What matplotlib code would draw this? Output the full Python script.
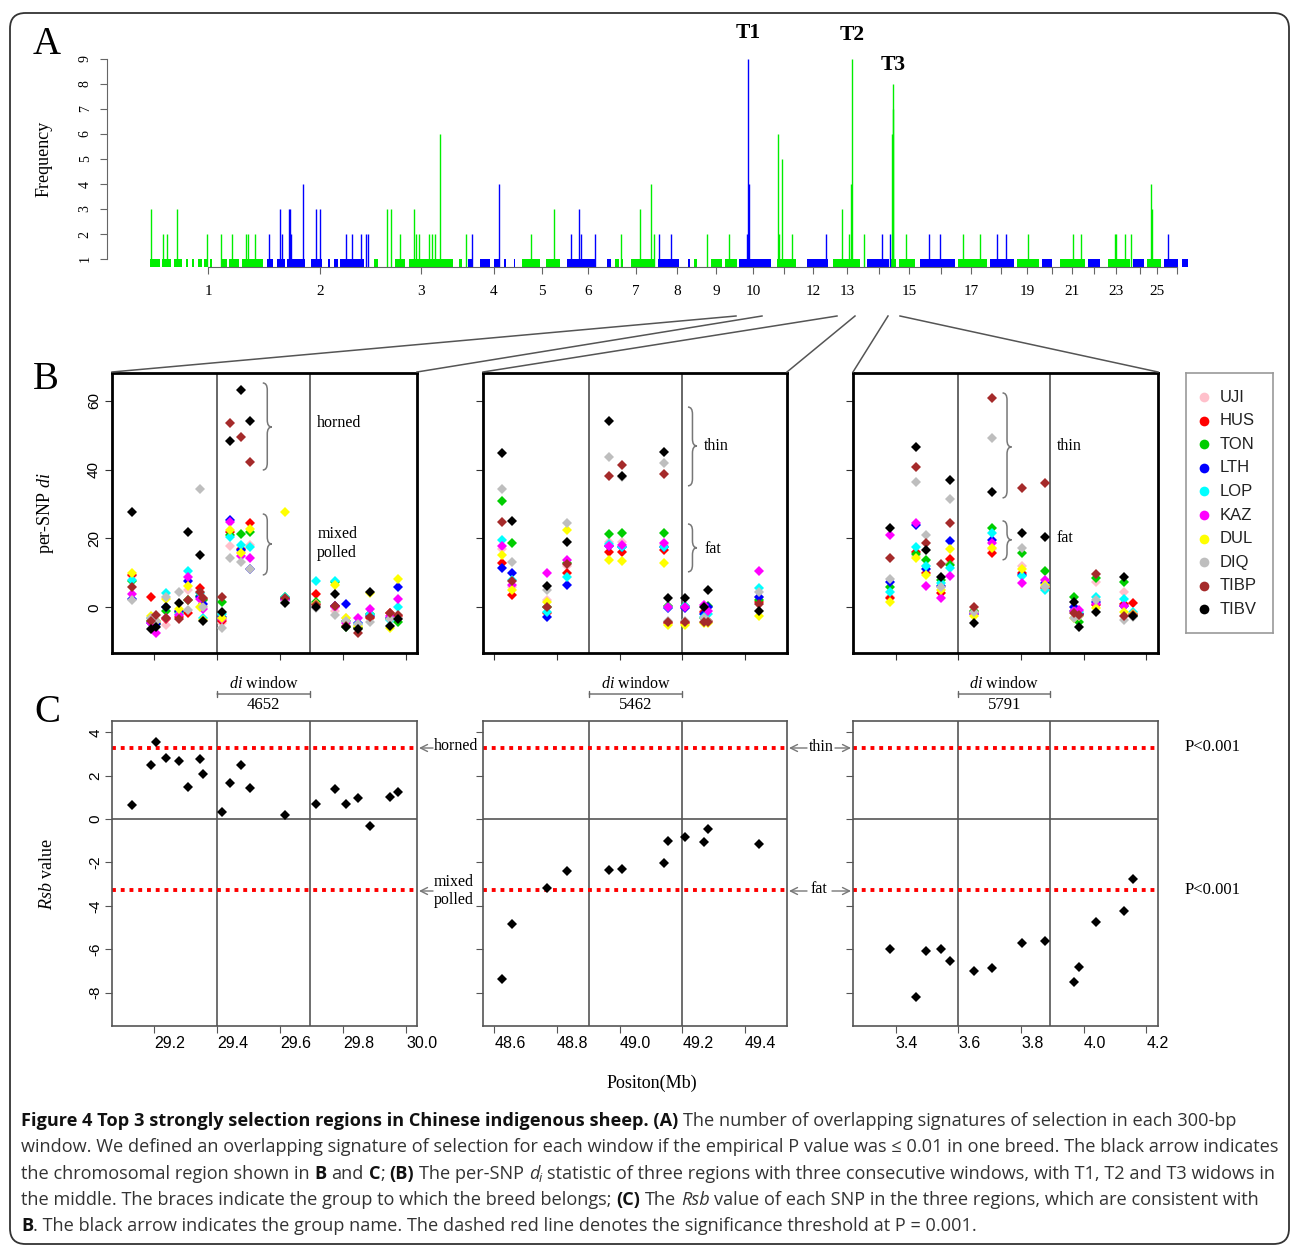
import matplotlib
matplotlib.use('Agg')
import numpy as np
import matplotlib.pyplot as plt
from matplotlib.path import Path
from matplotlib.patches import PathPatch, FancyBboxPatch, FancyArrowPatch
from matplotlib.lines import Line2D
from matplotlib.transforms import blended_transform_factory

plt.rcParams['font.family'] = ['Liberation Serif', 'DejaVu Serif']
plt.rcParams['mathtext.fontset'] = 'custom'
plt.rcParams['mathtext.rm'] = 'Liberation Serif'
plt.rcParams['mathtext.it'] = 'Liberation Serif:italic'

# ---------------- data: panel A (genome-wide overlap counts) ----------------
# cumulative genome position (plot units), chromosome borders
chrom_edges = [150, 266, 374, 468, 520, 565, 614, 656, 693, 738, 776, 803, 832, 866,
               891, 918, 957, 989, 1016, 1041, 1058, 1087, 1106, 1132, 1146, 1163, 1190]
chrom_ticks = [208, 320, 421, 494, 542, 588, 636, 677, 716, 753, 784, 813, 847, 879,
               909, 941, 971, 1001, 1027, 1052, 1072, 1094, 1116, 1140, 1157, 1177]
chrom_labels = ['1', '2', '3', '4', '5', '6', '7', '8', '9', '10', '', '12', '13', '',
                '15', '', '17', '', '19', '', '21', '', '23', '', '25', '']

# runs of windows with frequency 1 (start, end)
band_start = [150, 162, 174, 186, 192, 198, 204, 210, 221, 229, 242,
              267, 277, 287, 311, 328, 334, 340,
              374, 395, 409, 459,
              468, 480, 494, 504, 514,
              522, 546, 567, 607, 615, 621, 631,
              658, 688, 694, 711, 725, 739, 777, 807, 833, 867, 891, 899,
              920, 958, 990, 1017, 1042, 1060, 1088, 1108, 1133, 1147, 1164, 1182]
band_end = [160, 171, 182, 188, 194, 202, 207, 212, 227, 239, 263,
            273, 285, 305, 322, 330, 338, 364,
            378, 405, 453, 462,
            472, 490, 500, 506, 515,
            540, 560, 595, 611, 619, 623, 654,
            679, 690, 697, 722, 737, 771, 796, 828, 860, 889, 896, 915,
            955, 987, 1014, 1039, 1052, 1085, 1100, 1130, 1144, 1161, 1178, 1188]

# windows with frequency >= 2
peak_pos = [151, 163, 167, 177, 207, 221, 232, 246, 248, 255,
            269, 280, 282, 289, 290, 291, 303, 316, 320, 346, 352, 361, 366, 368,
            387, 391, 400, 414, 416, 419, 429, 432, 435, 440, 466,
            472, 499, 531, 554, 571, 579, 581, 595,
            621, 640, 651, 654, 659, 671, 707, 729,
            747, 748, 749, 778, 779, 782, 792, 826,
            842, 849, 851, 852, 864, 882, 890,
            892.3, 892.6, 893, 906, 929, 940, 963, 980, 997, 1006, 1028,
            1073, 1081, 1115, 1116, 1125, 1131, 1151, 1151.5, 1168]
peak_freq = [3, 2, 2, 3, 2, 2, 2, 2, 2, 2,
             2, 3, 2, 3, 3, 2, 4, 3, 3, 2, 2, 2, 2, 2,
             3, 3, 2, 3, 2, 2, 2, 2, 2, 6, 2,
             2, 4, 2, 3, 2, 3, 2, 2,
             2, 3, 4, 2, 2, 2, 2, 2,
             2, 9, 4, 6, 2, 5, 2, 2,
             3, 2, 4, 9, 2, 2, 2,
             6, 7, 8, 2, 2, 2, 2, 2, 2, 2, 2,
             2, 2, 2, 2, 2, 2, 4, 3, 2]

peak_names = ['T1', 'T2', 'T3']
peak_name_pos = [748, 852, 893]
peak_name_freq = [9, 9, 8]

# ---------------- data: panels B and C ----------------
breeds = ['UJI', 'HUS', 'TON', 'LTH', 'LOP', 'KAZ', 'DUL', 'DIQ', 'TIBP', 'TIBV']
breed_colors = ['#ffc0cb', '#ff0000', '#00cd00', '#0000ff', '#00ffff', '#ff00ff',
                '#ffff00', '#bebebe', '#a52a2a', '#000000']

pos_t1 = [29.129, 29.190, 29.206, 29.238, 29.280, 29.308, 29.346, 29.354, 29.417, 29.440,
          29.477, 29.505, 29.615, 29.714, 29.773, 29.808, 29.848, 29.886, 29.950, 29.976]
di_t1 = [
    [9.0, -3.5, -5.5, -5.1, -1.5, 5.0, 4.0, 0.5, -4.5, 17.9, 16.0, 18.0, 2.0, 1.0, -1.0, -3.0, -5.5, -2.0, -3.0, -3.0],
    [9.5, 2.9, -4.5, -3.5, -2.7, -1.7, 5.5, 2.5, -3.9, 22.0, 16.8, 24.4, 2.5, 3.8, 0.5, -4.0, -6.0, -3.0, -1.7, -2.5],
    [7.7, -4.0, -5.0, -1.0, -1.5, 2.1, 3.4, 2.1, 1.4, 21.0, 21.3, 22.0, 3.1, 1.6, 7.2, -5.8, -6.1, -2.0, -3.5, -4.2],
    [2.3, -4.5, -5.0, 0.2, -1.0, 7.7, 3.0, 1.0, -2.7, 25.4, 16.5, 11.0, 2.5, 1.0, 0.5, 0.9, -4.6, -2.5, -3.0, 6.0],
    [8.0, -3.0, -4.0, 4.1, -2.0, 10.4, 4.0, -3.0, -2.0, 20.5, 18.1, 17.6, 3.0, 7.5, 7.5, -4.0, -4.8, -2.0, -3.7, 0.2],
    [3.8, -4.6, -7.4, -3.0, -2.2, 8.9, 2.5, -0.6, -3.5, 24.7, 15.0, 14.2, 2.0, 1.0, 0.0, -4.5, -3.2, -0.6, -2.5, 2.3],
    [9.9, -2.5, -4.0, 2.5, -0.5, 6.3, 0.0, -3.7, -3.0, 22.5, 15.7, 22.7, 27.6, 1.0, 6.5, -3.0, -5.5, 4.1, -6.1, 8.3],
    [2.0, -3.0, -4.0, 2.9, 4.4, -0.8, 34.3, 0.0, -6.1, 14.2, 13.1, 11.0, 1.5, -0.3, -2.2, -4.0, -5.0, -4.2, -3.5, -3.0],
    [6.0, -4.0, -2.2, -3.2, -3.5, 2.1, 4.5, 2.6, 2.9, 53.6, 49.4, 42.1, 2.8, 0.7, 0.4, -5.5, -7.4, -2.7, -1.7, -2.2],
    [27.6, -6.4, -5.6, 0.2, 1.2, 22.0, 15.2, -4.0, -1.3, 48.4, 63.1, 54.1, 1.2, 0.0, 3.8, -5.8, -6.4, 4.4, -5.4, -3.5],
]
rsb_t1 = [0.65, 2.49, 3.56, 2.80, 2.69, 1.50, 2.75, 2.09, 0.31, 1.64,
          2.49, 1.43, 0.20, 0.69, 1.38, 0.71, 0.98, -0.32, 1.03, 1.23]

pos_t2 = [48.625, 48.656, 48.768, 48.832, 48.967, 49.007, 49.140, 49.154, 49.209, 49.270, 49.281, 49.446]
di_t2 = [
    [17.0, 6.0, 2.0, 12.0, 19.0, 19.0, 18.0, 0.5, 0.0, -1.0, 0.0, 3.0],
    [13.0, 3.6, -1.8, 10.0, 16.0, 16.2, 16.5, -4.5, -4.5, -1.3, -4.0, 1.5],
    [30.8, 18.8, 0.2, 12.8, 21.3, 21.5, 21.5, 0.4, 0.4, -3.0, 0.5, 2.0],
    [11.3, 10.1, -2.9, 6.5, 17.9, 17.5, 17.5, -0.3, -0.3, -2.0, 0.0, 2.9],
    [19.6, 8.0, -1.3, 8.7, 18.5, 17.6, 17.4, 0.0, 0.4, -2.9, -2.0, 5.5],
    [17.9, 6.5, 9.9, 13.7, 17.9, 18.1, 18.6, 0.0, 0.0, 0.7, -1.0, 10.4],
    [15.2, 5.0, 1.4, 22.5, 13.6, 13.5, 13.0, -5.1, -5.1, -4.6, -4.5, -2.5],
    [34.4, 13.1, 5.0, 24.4, 43.8, 38.0, 42.0, -4.0, -4.0, -3.0, -4.0, 4.4],
    [24.7, 7.7, 0.2, 12.6, 38.2, 41.3, 38.7, -4.2, -4.2, -4.2, -4.2, 1.0],
    [44.9, 25.2, 6.3, 19.1, 54.2, 38.1, 45.2, 2.6, 2.6, 0.0, 5.0, -1.0],
]
rsb_t2 = [-7.39, -4.84, -3.16, -2.38, -2.35, -2.29, -2.01, -1.00, -0.85, -1.07, -0.46, -1.15]

pos_t3 = [3.383, 3.464, 3.498, 3.546, 3.575, 3.649, 3.707, 3.804, 3.875, 3.969, 3.985, 4.040, 4.127, 4.157]
di_t3 = [
    [3.0, 15.0, 12.0, 6.0, 13.0, -1.0, 17.0, 12.0, 6.0, 0.0, -1.0, 7.2, 4.3, -2.0],
    [2.6, 16.0, 10.0, 4.0, 14.0, -1.5, 15.9, 10.0, 5.5, -1.0, -2.0, 0.7, 1.0, 1.2],
    [6.0, 15.4, 13.6, 7.9, 12.3, -1.0, 23.1, 15.9, 10.4, 3.1, -4.2, 8.4, 7.2, -2.5],
    [7.2, 24.0, 11.0, 6.2, 19.3, -2.0, 19.6, 9.5, 7.0, 0.0, -2.0, 1.5, 0.5, -2.0],
    [4.3, 17.6, 12.0, 7.0, 11.3, -2.0, 21.7, 9.1, 5.0, -1.0, -1.5, 2.9, 2.3, -1.5],
    [21.0, 24.6, 6.2, 2.8, 9.1, -2.0, 18.6, 7.0, 7.9, -1.0, -0.8, 1.0, 0.4, -2.0],
    [1.6, 14.2, 9.4, 5.0, 16.9, -2.5, 17.1, 11.0, 6.5, -3.2, -2.5, -0.3, -1.3, -2.0],
    [8.1, 36.3, 21.0, 6.0, 31.4, -1.5, 49.1, 17.1, 6.0, -3.0, -2.5, 2.0, -3.7, -2.7],
    [14.4, 40.7, 18.6, 12.6, 24.4, 0.0, 60.7, 34.8, 36.2, -1.7, -2.2, 9.6, -2.4, -2.3],
    [23.1, 46.5, 16.7, 8.9, 37.0, -4.5, 33.6, 21.5, 20.5, 1.4, -5.8, -1.3, 8.7, -2.4],
]
rsb_t3 = [-5.98, -8.19, -6.07, -6.01, -6.54, -6.99, -6.88, -5.73, -5.64, -7.50, -6.84, -4.73, -4.24, -2.78]

region_xlim = [(29.066, 30.035), (48.564, 49.534), (3.264, 4.237)]
region_ticks = [[29.2, 29.4, 29.6, 29.8, 30.0], [48.6, 48.8, 49.0, 49.2, 49.4], [3.4, 3.6, 3.8, 4.0, 4.2]]
window_edges = [(29.40, 29.695), (48.903, 49.198), (3.600, 3.893)]
window_ids = ['4652', '5462', '5791']
rsb_cut = 3.29

W, H = 1292, 1246
fig = plt.figure(figsize=(W / 100, H / 100), dpi=100)


def fx(x):
    return x / W


def fy(y):
    return 1 - y / H


def px_axes(x0, y0, x1, y1):
    return fig.add_axes([x0 / W, 1 - y1 / H, (x1 - x0) / W, (y1 - y0) / H])


SANS = ['Liberation Sans', 'DejaVu Sans']

# outer frame
fig.patches.append(FancyBboxPatch((fx(10), fy(1244)), fx(1289) - fx(10), fy(13) - fy(1244),
                                  boxstyle='round,pad=0,rounding_size=0.012', mutation_aspect=W / H,
                                  transform=fig.transFigure, fill=False, ec='#333', lw=1.3))

# ---------------- panel A ----------------
axA = px_axes(107, 51, 1192, 267)
axA.set_xlim(107, 1192)
axA.set_ylim(0.68, 9.32)
green, blue = '#00ee00', '#0000ff'

bs = np.array(band_start, float)
be = np.array(band_end, float)
bchrom = np.searchsorted(chrom_edges, (bs + be) / 2, side='right')
axA.bar(bs, 1.0, width=be - bs, bottom=0, align='edge', linewidth=0,
        color=[green if c % 2 else blue for c in bchrom])

pp = np.array(peak_pos, float)
pchrom = np.searchsorted(chrom_edges, pp, side='right')
axA.vlines(pp, 0, peak_freq, colors=[green if c % 2 else blue for c in pchrom], lw=1.0)

for s in ['top', 'right']:
    axA.spines[s].set_visible(False)
axA.spines['left'].set_bounds(1, 9)
axA.spines['bottom'].set_bounds(chrom_ticks[0], chrom_ticks[-1])
for s in ['left', 'bottom']:
    axA.spines[s].set_color('#666')
axA.set_yticks(range(1, 10))
axA.set_yticklabels([str(i) for i in range(1, 10)], rotation=90, va='center', fontsize=10)
axA.set_xticks(chrom_ticks)
axA.set_xticklabels(chrom_labels, fontsize=11)
axA.tick_params(axis='both', colors='#666', labelcolor='black', length=5)
axA.tick_params(axis='y', pad=6)
axA.tick_params(axis='x', pad=8)
axA.set_ylabel('Frequency', fontsize=13)
axA.yaxis.set_label_coords(-0.050, 0.5)
offs = [19, 17, 14]
for name, xp, fq, o in zip(peak_names, peak_name_pos, peak_name_freq, offs):
    axA.annotate(name, xy=(xp, fq), xytext=(0, o), textcoords='offset points',
                 ha='center', va='center', fontsize=15.5, fontweight='bold', annotation_clip=False)

# lines from panel A down to panel B
links = [((736, 316), (112, 372)), ((762, 316), (417, 372)), ((837, 316), (483, 372)),
         ((855, 316), (787, 372)), ((888, 316), (853, 372)), ((900, 316), (1158, 372))]
for (x0, y0), (x1, y1) in links:
    fig.add_artist(Line2D([fx(x0), fx(x1)], [fy(y0), fy(y1)], transform=fig.transFigure,
                          color='#555', lw=1.1))

# ---------------- panel B ----------------
b_cols = [(112, 417), (483, 787), (853, 1158)]
positions = [pos_t1, pos_t2, pos_t3]
di_values = [di_t1, di_t2, di_t3]
rsb_values = [rsb_t1, rsb_t2, rsb_t3]


def brace(ax, x, y_top, y_bot, y_tip, w=9, r=7):
    tr = ax.transData
    X, Yt = tr.transform((x, y_top))
    _, Yb = tr.transform((x, y_bot))
    _, Ym = tr.transform((x, y_tip))
    h = w / 2
    verts = [(X, Yt), (X + h, Yt), (X + h, Yt - r), (X + h, Ym + r), (X + h, Ym), (X + w, Ym),
             (X + h, Ym), (X + h, Ym - r), (X + h, Yb + r), (X + h, Yb), (X, Yb)]
    codes = [Path.MOVETO, Path.CURVE3, Path.CURVE3, Path.LINETO, Path.CURVE3, Path.CURVE3,
             Path.CURVE3, Path.CURVE3, Path.LINETO, Path.CURVE3, Path.CURVE3]
    dv = tr.inverted().transform(verts)
    ax.add_patch(PathPatch(Path(dv, codes), fill=False, ec='#777', lw=1.1, clip_on=False))


axesB = []
for k, (x0, x1) in enumerate(b_cols):
    ax = px_axes(x0, 373, x1, 653)
    axesB.append(ax)
    ax.set_xlim(*region_xlim[k])
    ax.set_ylim(-13.3, 68.1)
    for w in window_edges[k]:
        ax.axvline(w, color='#666', lw=1.4)
    for b in range(len(breeds)):
        ax.plot(positions[k], di_values[k][b], 'D', ms=5.0, color=breed_colors[b], mew=0)
    for s in ax.spines.values():
        s.set_linewidth(2.0)
        s.set_color('black')
    ax.set_xticks(region_ticks[k])
    ax.set_xticklabels([])
    ax.set_yticks([0, 20, 40, 60])
    if k == 0:
        ax.set_yticklabels(['0', '20', '40', '60'], rotation=90, va='center', fontsize=11, family=SANS)
        ax.set_ylabel('per-SNP $di$', fontsize=13)
        ax.yaxis.set_label_coords(-0.185, 0.5)
    else:
        ax.set_yticklabels([])
    ax.tick_params(length=5, color='#333', pad=3)

brace(axesB[0], 29.545, 65.2, 39.9, 52.4)
brace(axesB[0], 29.545, 27.1, 9.4, 18.4)
axesB[0].text(29.718, 53.5, 'horned', fontsize=11.5, va='center')
axesB[0].text(29.718, 18.5, 'mixed\npolled', fontsize=11.5, va='center', linespacing=1.2)
brace(axesB[1], 49.218, 58.2, 35.3, 46.9)
brace(axesB[1], 49.218, 24.2, 10.3, 17.3)
axesB[1].text(49.270, 47.0, 'thin', fontsize=11.5, va='center')
axesB[1].text(49.270, 17.0, 'fat', fontsize=11.5, va='center')
brace(axesB[2], 3.741, 62.3, 31.8, 46.6)
brace(axesB[2], 3.741, 25.1, 13.8, 19.6)
axesB[2].text(3.914, 47.0, 'thin', fontsize=11.5, va='center')
axesB[2].text(3.914, 20.0, 'fat', fontsize=11.5, va='center')

# legend
axL = px_axes(1186, 373, 1273, 633)
axL.set_xlim(0, 1)
axL.set_ylim(0, 1)
axL.set_xticks([])
axL.set_yticks([])
for s in axL.spines.values():
    s.set_color('#999')
    s.set_linewidth(1.2)
for i, (name, c) in enumerate(zip(breeds, breed_colors)):
    yy = 1 - (24 + i * 23.6) / 260
    axL.plot(0.207, yy, 'o', ms=7, color=c, mew=0)
    axL.text(0.39, yy, name, va='center', ha='left', fontsize=12, family=SANS, color='#222')

# ---------------- panel C ----------------
for k, (x0, x1) in enumerate(b_cols):
    ax = px_axes(x0, 721, x1, 1026)
    ax.set_xlim(*region_xlim[k])
    ax.set_ylim(-9.54, 4.52)
    for w in window_edges[k]:
        ax.axvline(w, color='#555', lw=1.2)
    ax.axhline(0, color='#555', lw=1.2)
    for yv in (rsb_cut, -rsb_cut):
        ax.axhline(yv, color='#ff0000', lw=2.8, ls=(0, (1, 1.25)))
    ax.plot(positions[k], rsb_values[k], 'D', ms=4.6, color='black', mew=0)
    for s in ax.spines.values():
        s.set_linewidth(1.2)
        s.set_color('#555')
    ax.set_xticks(region_ticks[k])
    ax.set_xticklabels(['%.1f' % t for t in region_ticks[k]], fontsize=11.5, family=SANS, ha='left')
    ax.set_yticks([4, 2, 0, -2, -4, -6, -8])
    if k == 0:
        ax.set_yticklabels(['4', '2', '0', '-2', '-4', '-6', '-8'], rotation=90, va='center',
                           fontsize=11, family=SANS)
        ax.set_ylabel('$Rsb$ value', fontsize=13)
        ax.yaxis.set_label_coords(-0.185, 0.5)
    else:
        ax.set_yticklabels([])
    ax.tick_params(length=5, color='#555', pad=2)

    # di window bracket
    bt = blended_transform_factory(ax.transData, ax.transAxes)
    wa, wb = window_edges[k]
    ax.annotate('', xy=(wb, 1.0885), xytext=(wa, 1.0885), xycoords=bt, textcoords=bt,
                arrowprops=dict(arrowstyle='|-|,widthA=0.25,widthB=0.25', color='#666', lw=1.0,
                                shrinkA=0, shrinkB=0), annotation_clip=False)
    ax.text((wa + wb) / 2, 1.121, '$di$ window', transform=bt, ha='center', va='center', fontsize=11.5)
    ax.text((wa + wb) / 2, 1.054, window_ids[k], transform=bt, ha='center', va='center', fontsize=12)


def fig_arrow(x_tail, x_head, y):
    fig.add_artist(FancyArrowPatch((fx(x_tail), fy(y)), (fx(x_head), fy(y)), transform=fig.transFigure,
                                   arrowstyle='->,head_length=5,head_width=2.5', mutation_scale=1,
                                   color='#777', lw=1.0, shrinkA=0, shrinkB=0))


y_hi, y_lo = 748, 891
fig_arrow(433, 419, y_hi)
fig_arrow(433, 419, y_lo)
fig.text(fx(434), fy(y_hi - 2), 'horned', fontsize=11.5, va='center', ha='left')
fig.text(fx(434), fy(y_lo), 'mixed\npolled', fontsize=11.5, va='center', ha='left', linespacing=1.2)
fig_arrow(807, 789, y_hi)
fig_arrow(835, 851, y_hi)
fig.text(fx(821), fy(y_hi - 1), 'thin', fontsize=11.5, va='center', ha='center')
fig_arrow(807, 789, y_lo)
fig_arrow(832, 851, y_lo)
fig.text(fx(819), fy(y_lo - 2), 'fat', fontsize=11.5, va='center', ha='center')
fig.text(fx(1213), fy(y_hi - 1), 'P<0.001', fontsize=12, va='center', ha='center')
fig.text(fx(1213), fy(y_lo - 1), 'P<0.001', fontsize=12, va='center', ha='center')

fig.text(fx(652), fy(1083), 'Positon(Mb)', fontsize=13, ha='center', va='center')

for lab, (lx, ly) in zip(['A', 'B', 'C'], [(47, 45), (46, 380), (47, 712)]):
    fig.text(fx(lx), fy(ly), lab, fontsize=28, ha='center', va='center')

# ---------------- caption ----------------
CAP = ['Open Sans', 'DejaVu Sans']
renderer = fig.canvas.get_renderer()


def cap_kw(style, size):
    kw = dict(family=CAP, fontsize=size, color='#333')
    if style == 'b':
        kw.update(fontweight='bold', color='#111')
    elif style == 'i':
        kw.update(style='italic')
    elif style == 'sub':
        kw.update(style='italic', fontsize=size * 0.7)
    return kw


def text_width(s, **kw):
    t = fig.text(0, 0, s, **kw)
    w = t.get_window_extent(renderer).width
    t.remove()
    return w


caption = [
    [('Figure 4 Top 3 strongly selection regions in Chinese indigenous sheep. (A)', 'b'),
     (' The number of overlapping signatures of selection in each 300-bp', 'n')],
    [('window. We defined an overlapping signature of selection for each window if the empirical '
      'P value was \u2264 0.01 in one breed. The black arrow indicates', 'n')],
    [('the chromosomal region shown in ', 'n'), ('B', 'b'), (' and ', 'n'), ('C', 'b'), ('; ', 'n'),
     ('(B)', 'b'), (' The per-SNP ', 'n'), ('d', 'i'), ('i', 'sub'),
     (' statistic of three regions with three consecutive windows, with T1, T2 and T3 widows in', 'n')],
    [('the middle. The braces indicate the group to which the breed belongs; ', 'n'), ('(C)', 'b'),
     (' The ', 'n'), ('Rsb', 'i'),
     (' value of each SNP in the three regions, which are consistent with', 'n')],
    [('B', 'b'), ('. The black arrow indicates the group name. The dashed red line denotes the '
                  'significance threshold at P = 0.001.', 'n')],
]

base = 12.0
w_line2 = text_width(caption[1][0][0], **cap_kw('n', base))
cap_size = base * 1256 / w_line2


def draw_runs(runs, x, y, size):
    for s, st in runs:
        kw = cap_kw(st, size)
        sp = text_width('a a', **kw) - text_width('aa', **kw)
        lead = len(s) - len(s.lstrip(' '))
        trail = len(s) - len(s.rstrip(' '))
        core = s.strip(' ')
        x += lead * sp
        yy = y + (3 if st == 'sub' else 0)
        t = fig.text(fx(x), fy(yy), core, va='baseline', ha='left', **kw)
        x += t.get_window_extent(renderer).width + trail * sp


for i, runs in enumerate(caption):
    draw_runs(runs, 21, 1126 + i * 26.3, cap_size)

fig.savefig('out.png', dpi=100)
